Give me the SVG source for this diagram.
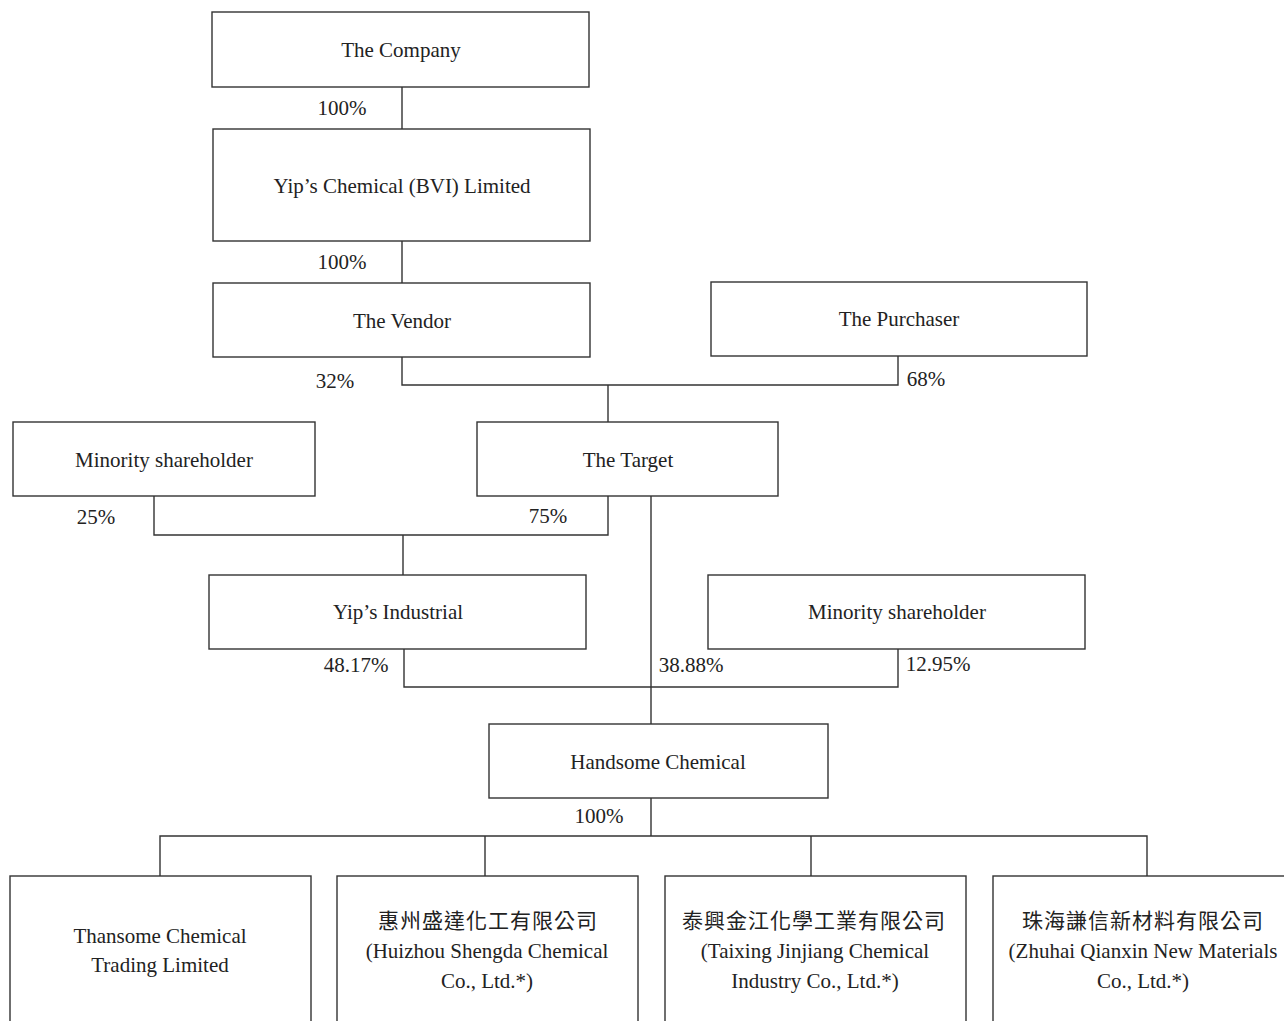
<svg xmlns="http://www.w3.org/2000/svg" width="1284" height="1021" viewBox="0 0 1284 1021">
<style>
rect{fill:#fff;stroke:#333;stroke-width:1.4}
.c{fill:none;stroke:#333;stroke-width:1.4}
text{font-family:"Liberation Serif","Noto Sans CJK TC",serif;font-size:21px;fill:#222}
.m{text-anchor:middle}
.cjk{letter-spacing:1px}
</style>
<rect x="0" y="0" width="1284" height="1021" style="fill:#fff;stroke:none"/>
<g id="connectors">
<path class="c" d="M402,87V129M402,241V283M402,357V385H898V356M608,385V422M154,496V535H608V496M403,535V575M651,496V724M404,649V687H898V649M651,798V836M160,876V836H1147V876M485,836V876M811,836V876"/>
</g>
<g id="labels">
<text class="m" x="342" y="115">100%</text>
<text class="m" x="342" y="269">100%</text>
<text class="m" x="335" y="388">32%</text>
<text class="m" x="926" y="386">68%</text>
<text class="m" x="96" y="524">25%</text>
<text class="m" x="548" y="523">75%</text>
<text class="m" x="356" y="672">48.17%</text>
<text class="m" x="691" y="672">38.88%</text>
<text class="m" x="938" y="671">12.95%</text>
<text class="m" x="599" y="823">100%</text>
</g>
<g id="company"><rect x="212" y="12" width="377" height="75"/><text class="m" x="401" y="57">The Company</text></g>
<g id="bvi"><rect x="213" y="129" width="377" height="112"/><text class="m" x="402" y="193">Yip’s Chemical (BVI) Limited</text></g>
<g id="vendor"><rect x="213" y="283" width="377" height="74"/><text class="m" x="402" y="328">The Vendor</text></g>
<g id="purchaser"><rect x="711" y="282" width="376" height="74"/><text class="m" x="899" y="326">The Purchaser</text></g>
<g id="minority1"><rect x="13" y="422" width="302" height="74"/><text class="m" x="164" y="467">Minority shareholder</text></g>
<g id="target"><rect x="477" y="422" width="301" height="74"/><text class="m" x="628" y="467">The Target</text></g>
<g id="yips-industrial"><rect x="209" y="575" width="377" height="74"/><text class="m" x="398" y="619">Yip’s Industrial</text></g>
<g id="minority2"><rect x="708" y="575" width="377" height="74"/><text class="m" x="897" y="619">Minority shareholder</text></g>
<g id="handsome"><rect x="489" y="724" width="339" height="74"/><text class="m" x="658" y="769">Handsome Chemical</text></g>
<g id="thansome"><rect x="10" y="876" width="301" height="160"/><text class="m" x="160" y="943">Thansome Chemical</text><text class="m" x="160" y="972">Trading Limited</text></g>
<g id="huizhou"><rect x="337" y="876" width="301" height="160"/><text class="m cjk" x="488" y="928">惠州盛達化工有限公司</text><text class="m" x="487" y="958">(Huizhou Shengda Chemical</text><text class="m" x="487" y="988">Co., Ltd.*)</text></g>
<g id="taixing"><rect x="665" y="876" width="301" height="160"/><text class="m cjk" x="814" y="928">泰興金江化學工業有限公司</text><text class="m" x="815" y="958">(Taixing Jinjiang Chemical</text><text class="m" x="815" y="988">Industry Co., Ltd.*)</text></g>
<g id="zhuhai"><rect x="993" y="876" width="301" height="160"/><text class="m cjk" x="1143" y="928">珠海謙信新材料有限公司</text><text class="m" x="1143" y="958">(Zhuhai Qianxin New Materials</text><text class="m" x="1143" y="988">Co., Ltd.*)</text></g>
</svg>
